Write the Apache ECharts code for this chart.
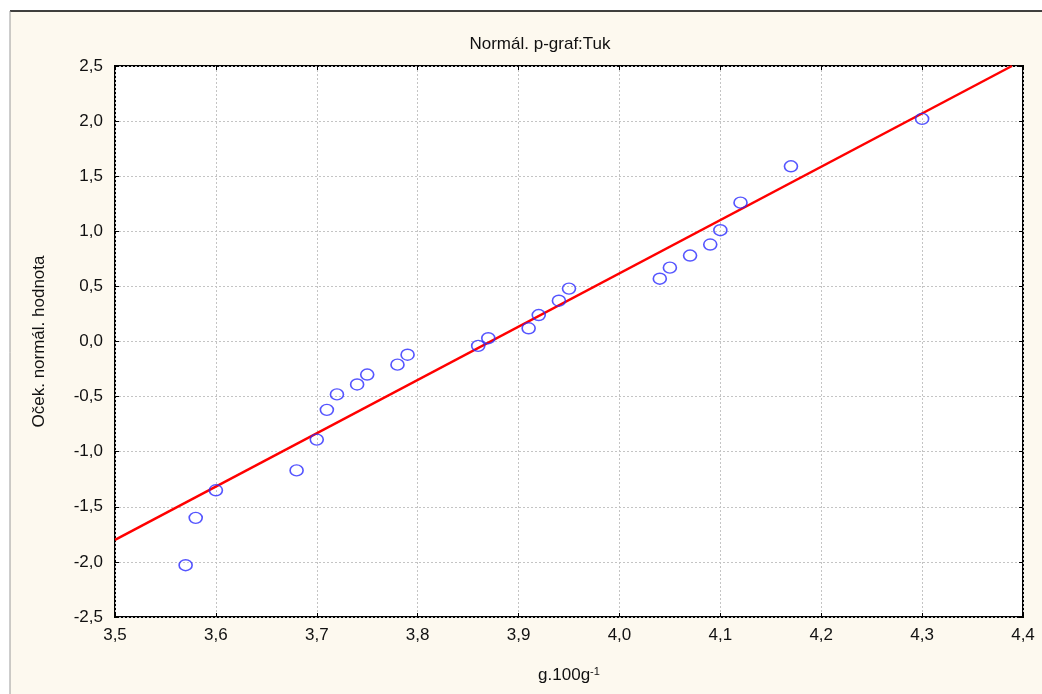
<!DOCTYPE html>
<html>
<head>
<meta charset="utf-8">
<title>Normál. p-graf:Tuk</title>
<script src="https://cdn.jsdelivr.net/npm/echarts@6/dist/echarts.min.js"></script>
<style>
  html, body { margin: 0; padding: 0; background: #fff; }
  #chart { width: 1042px; height: 694px; }
</style>
</head>
<body>
<div id="chart"></div>
<script>
// naměřené hodnoty (x) a očekávané normální hodnoty (y)
var tukValues = [3.57, 3.58, 3.60, 3.68, 3.70, 3.71, 3.72, 3.74, 3.75, 3.78, 3.79, 3.86, 3.87,
                 3.91, 3.92, 3.94, 3.95, 4.04, 4.05, 4.07, 4.09, 4.10, 4.12, 4.17, 4.30];
var expectedNormal = [-2.03, -1.60, -1.35, -1.17, -0.89, -0.62, -0.48, -0.39, -0.30, -0.21, -0.12, -0.04, 0.03,
                      0.12, 0.24, 0.37, 0.48, 0.57, 0.67, 0.78, 0.88, 1.01, 1.26, 1.59, 2.02];
// přímka
var lineX = [3.5, 4.389];
var lineY = [-1.80, 2.5];

var xTicks = [3.5, 4.4, 0.1];   // min, max, interval
var yTicks = [-2.5, 2.5, 0.5];

function comma(v) {
    return v.toFixed(1).replace('.', ',');
}

var points = tukValues.map(function(x, i) { return [x, expectedNormal[i]]; });
var linePts = lineX.map(function(x, i) { return [x, lineY[i]]; });

var chart = echarts.init(document.getElementById('chart'));

var tickStyle = { show: true, inside: true, length: 4, lineStyle: { color: '#000', width: 1 } };
var gridLine = { show: true, lineStyle: { color: '#c4c4c4', type: [2, 2], width: 1 } };
var noLine = { show: false, onZero: false };
var labelFont = { fontFamily: 'Liberation Sans', fontSize: 17, color: '#111' };

var option = {
    backgroundColor: '#ffffff',
    animation: false,
    graphic: [
        { type: 'rect', left: 10, top: 11, shape: { width: 1032, height: 683 }, style: { fill: '#fdf9ef' }, z: -10 },
        { type: 'line', shape: { x1: 10, y1: 11, x2: 1042, y2: 11 }, style: { stroke: '#000', lineWidth: 1.5 }, z: -9 },
        { type: 'line', shape: { x1: 10, y1: 11, x2: 10, y2: 694 }, style: { stroke: '#9a9a9a', lineWidth: 1 }, z: -9 }
    ],
    title: {
        text: 'Normál. p-graf:Tuk',
        left: 535,
        top: 31,
        textAlign: 'center',
        textStyle: { fontFamily: 'Liberation Sans', fontSize: 17, fontWeight: 'normal', color: '#111' }
    },
    grid: {
        left: 115, right: 19, top: 66, bottom: 77,
        show: true, backgroundColor: '#ffffff', borderColor: '#000', borderWidth: 2
    },
    xAxis: [{
        type: 'value', min: xTicks[0], max: xTicks[1], interval: xTicks[2],
        name: 'g.100g{sup|-1}', nameLocation: 'middle', nameGap: 49,
        nameTextStyle: {
            fontFamily: 'Liberation Sans', fontSize: 17, color: '#111',
            rich: { sup: { fontSize: 11, verticalAlign: 'top', padding: [0, 0, 8, 0], fontFamily: 'Liberation Sans', color: '#111' } }
        },
        axisLine: noLine,
        axisTick: tickStyle,
        splitLine: gridLine,
        axisLabel: Object.assign({ formatter: comma, margin: 10 }, labelFont)
    }, {
        type: 'value', position: 'top', min: xTicks[0], max: xTicks[1], interval: xTicks[2],
        axisLine: noLine, axisTick: tickStyle, axisLabel: { show: false }, splitLine: { show: false }
    }],
    yAxis: [{
        type: 'value', min: yTicks[0], max: yTicks[1], interval: yTicks[2],
        name: 'Oček. normál. hodnota', nameLocation: 'middle', nameGap: 67,
        nameTextStyle: { fontFamily: 'Liberation Sans', fontSize: 17, color: '#111' },
        axisLine: noLine,
        axisTick: tickStyle,
        splitLine: gridLine,
        axisLabel: Object.assign({ formatter: comma, margin: 12 }, labelFont)
    }, {
        type: 'value', position: 'right', min: yTicks[0], max: yTicks[1], interval: yTicks[2],
        axisLine: noLine, axisTick: tickStyle, axisLabel: { show: false }, splitLine: { show: false }
    }],
    series: [{
        type: 'line',
        data: linePts,
        symbol: 'none',
        lineStyle: { color: '#ff0000', width: 2.5 },
        z: 3
    }, {
        type: 'scatter',
        data: points,
        symbol: 'circle',
        symbolSize: [13, 11],
        itemStyle: { color: 'rgba(255,255,255,0)', borderColor: '#2a2aff', borderWidth: 1.5 },
        z: 4
    }]
};

chart.setOption(option);
</script>
</body>
</html>
